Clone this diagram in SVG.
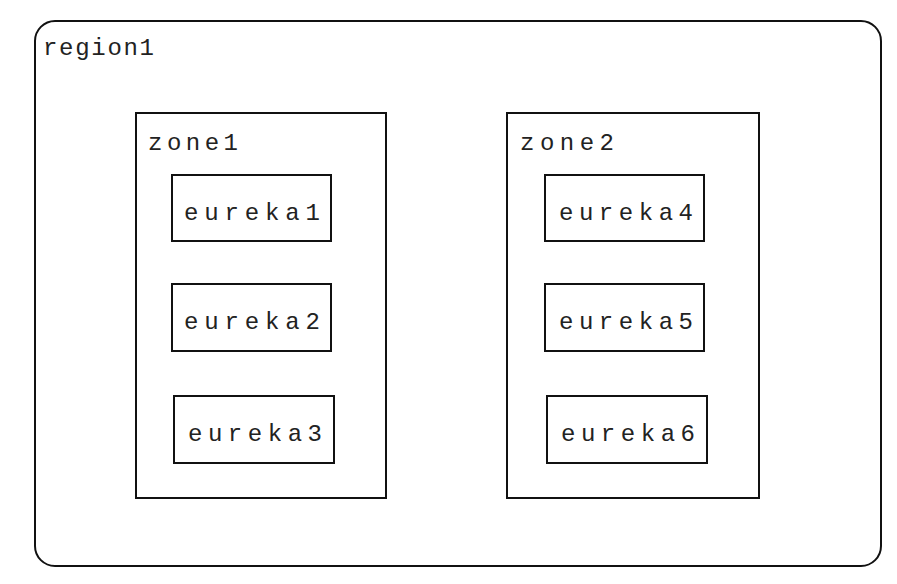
<svg xmlns="http://www.w3.org/2000/svg" width="897" height="584" viewBox="0 0 897 584">
<style>
.box{fill:#fff;stroke:#111;stroke-width:2}
.t{font-family:"Liberation Mono","DejaVu Sans Mono",monospace;fill:#222;font-size:24px}
</style>
<rect width="897" height="584" fill="#fff"/>
<g id="region1">
<rect class="box" x="35" y="21" width="846" height="545" rx="20" ry="20"/>
<text class="t" x="43" y="55" textLength="111" lengthAdjust="spacing">region1</text>
</g>
<g id="zone1">
<rect class="box" x="136" y="113" width="250" height="385"/>
<text class="t" x="148" y="150" textLength="90" lengthAdjust="spacing">zone1</text>
</g>
<g id="zone2">
<rect class="box" x="507" y="113" width="252" height="385"/>
<text class="t" x="520" y="150" textLength="94" lengthAdjust="spacing">zone2</text>
</g>
<g id="eureka1">
<rect class="box" x="172" y="175" width="159" height="66"/>
<text class="t" x="184" y="220" textLength="136" lengthAdjust="spacing">eureka1</text>
</g>
<g id="eureka2">
<rect class="box" x="172" y="284" width="159" height="67"/>
<text class="t" x="184" y="329" textLength="136" lengthAdjust="spacing">eureka2</text>
</g>
<g id="eureka3">
<rect class="box" x="174" y="396" width="160" height="67"/>
<text class="t" x="188" y="441" textLength="134" lengthAdjust="spacing">eureka3</text>
</g>
<g id="eureka4">
<rect class="box" x="545" y="175" width="159" height="66"/>
<text class="t" x="559" y="220" textLength="134" lengthAdjust="spacing">eureka4</text>
</g>
<g id="eureka5">
<rect class="box" x="545" y="284" width="159" height="67"/>
<text class="t" x="559" y="329" textLength="134" lengthAdjust="spacing">eureka5</text>
</g>
<g id="eureka6">
<rect class="box" x="547" y="396" width="160" height="67"/>
<text class="t" x="561" y="441" textLength="134" lengthAdjust="spacing">eureka6</text>
</g>
<g id="connectors"></g>
</svg>
